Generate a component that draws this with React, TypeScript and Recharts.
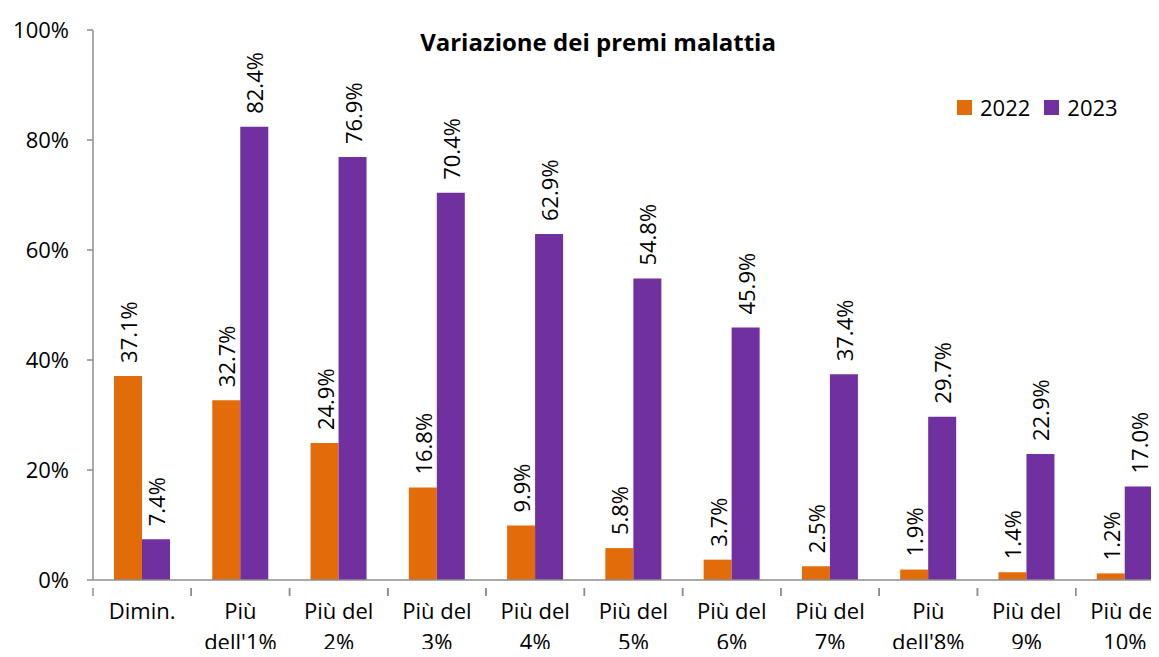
import { Bar, BarChart, LabelList, XAxis, YAxis } from "recharts";

const categories = [
  "Dimin.",
  "Più dell'1%",
  "Più del 2%",
  "Più del 3%",
  "Più del 4%",
  "Più del 5%",
  "Più del 6%",
  "Più del 7%",
  "Più dell'8%",
  "Più del 9%",
  "Più del 10%",
];
const values2022 = [37.1, 32.7, 24.9, 16.8, 9.9, 5.8, 3.7, 2.5, 1.9, 1.4, 1.2];
const values2023 = [7.4, 82.4, 76.9, 70.4, 62.9, 54.8, 45.9, 37.4, 29.7, 22.9, 17.0];
const yTicks = [0, 20, 40, 60, 80, 100];
const seriesNames = ["2022", "2023"];
const seriesColors = ["#E36C0A", "#7030A0"];

const data = categories.map((name, i) => ({
  name,
  y2022: values2022[i],
  y2023: values2023[i],
}));

const FONT = "'Open Sans', 'Noto Sans', sans-serif";
const AXIS = "#8c8c8c";
const CHART_W = 1180;
const CHART_H = 657;
const LEFT = 93;
const RIGHT = 6;
const BAND = (CHART_W - LEFT - RIGHT) / categories.length;

function CategoryTick(props: any) {
  const { x, y, payload } = props;
  const label: string = payload.value;
  const cut = label.lastIndexOf(" ");
  const lines = cut > 0 ? [label.slice(0, cut), label.slice(cut + 1)] : [label];
  return (
    <g>
      <line x1={x - BAND / 2} x2={x - BAND / 2} y1={y} y2={y + 8} stroke={AXIS} strokeWidth={1.5} />
      <line x1={x + BAND / 2} x2={x + BAND / 2} y1={y} y2={y + 8} stroke={AXIS} strokeWidth={1.5} />
      <text x={x} y={y + 31} textAnchor="middle" fontSize={22} fill="#000" fontFamily={FONT}>
        {lines.map((line, i) => (
          <tspan key={i} x={x} dy={i === 0 ? 0 : 31}>
            {line}
          </tspan>
        ))}
      </text>
    </g>
  );
}

function VerticalLabel(props: any) {
  const { x, y, width, value } = props;
  const cx = x + width / 2;
  const cy = y - 13;
  return (
    <text
      x={cx}
      y={cy}
      transform={`rotate(-90 ${cx} ${cy})`}
      textAnchor="start"
      dominantBaseline="central"
      fontSize={22}
      fill="#000"
      fontFamily={FONT}
    >
      {`${Number(value).toFixed(1)}%`}
    </text>
  );
}

export default function App() {
  return (
    <div style={{ position: "relative", width: 1159, height: 657, overflow: "hidden", margin: -8, background: "#fff" }}>
      <div
        style={{
          position: "absolute",
          left: 0,
          width: 1196,
          top: 26,
          textAlign: "center",
          fontFamily: FONT,
          fontWeight: 700,
          fontSize: 24,
          lineHeight: "32px",
          zIndex: 2,
        }}
      >
        Variazione dei premi malattia
      </div>
      <div
        style={{
          position: "absolute",
          left: 957,
          top: 92,
          display: "flex",
          alignItems: "center",
          fontFamily: FONT,
          fontSize: 22,
          lineHeight: "30px",
          zIndex: 2,
        }}
      >
        {seriesNames.map((name, i) => (
          <span key={name} style={{ display: "flex", alignItems: "center", marginRight: 14 }}>
            <span style={{ width: 15, height: 15, background: seriesColors[i], marginRight: 8 }} />
            {name}
          </span>
        ))}
      </div>
      <BarChart
        width={CHART_W}
        height={CHART_H}
        data={data}
        margin={{ top: 30, right: RIGHT, bottom: 0, left: 0 }}
        barCategoryGap={21}
        barGap={0}
      >
        <XAxis
          dataKey="name"
          height={77}
          interval={0}
          axisLine={{ stroke: AXIS, strokeWidth: 1.5 }}
          tickLine={false}
          tick={<CategoryTick />}
        />
        <YAxis
          width={LEFT}
          domain={[0, 100]}
          ticks={yTicks}
          interval={0}
          tickFormatter={(v: number) => `${v}%`}
          axisLine={{ stroke: AXIS, strokeWidth: 1.5 }}
          tickLine={{ stroke: AXIS, strokeWidth: 1.5 }}
          tickSize={6}
          tickMargin={18}
          tick={{ fontSize: 22, fill: "#000", fontFamily: FONT }}
        />
        <Bar dataKey="y2022" name={seriesNames[0]} fill={seriesColors[0]} isAnimationActive={false}>
          <LabelList dataKey="y2022" content={<VerticalLabel />} />
        </Bar>
        <Bar dataKey="y2023" name={seriesNames[1]} fill={seriesColors[1]} isAnimationActive={false}>
          <LabelList dataKey="y2023" content={<VerticalLabel />} />
        </Bar>
      </BarChart>
    </div>
  );
}
